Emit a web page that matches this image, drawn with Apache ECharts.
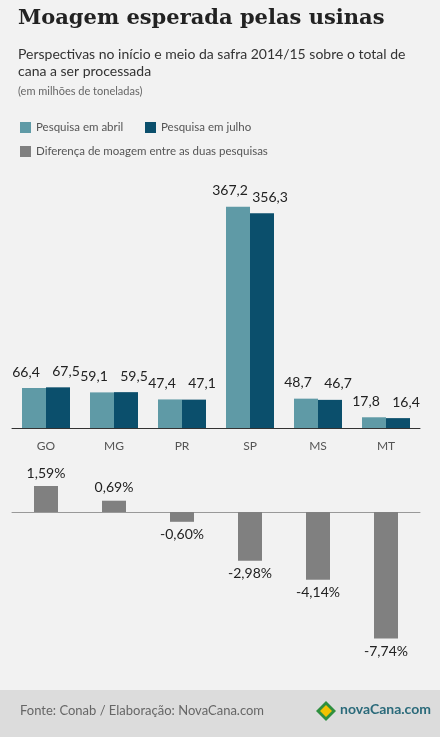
<!DOCTYPE html>
<html><head><meta charset="utf-8">
<script src="https://cdn.jsdelivr.net/npm/echarts@6/dist/echarts.min.js"></script>
<style>html,body{margin:0;padding:0;background:#f2f2f2}#c{width:440px;height:737px}</style>
</head><body><div id="c"></div>
<script>
const categories = ['GO','MG','PR','SP','MS','MT'];
const abril = [66.4,59.1,47.4,367.2,48.7,17.8];
const julho = [67.5,59.5,47.1,356.3,46.7,16.4];
const diferenca = [1.59,0.69,-0.60,-2.98,-4.14,-7.74];
const fmt = v => String(v.toFixed(1)).replace('.',',');
const fmtP = v => v.toFixed(2).replace('.',',') + '%';
const F = 'Lato, "Open Sans", sans-serif';
const chart = echarts.init(document.getElementById('c'));
chart.setOption({
  backgroundColor:'#f2f2f2',
  animation:false,
  graphic:[
    {type:'text',left:18,top:8,style:{text:'Moagem esperada pelas usinas',font:'bold 21px "DejaVu Serif", serif',fill:'#222'}},
    {type:'text',left:18,top:46,style:{text:'Perspectivas no início e meio da safra 2014/15 sobre o total de\ncana a ser processada',font:'14px '+F,fill:'#333',lineHeight:17}},
    {type:'text',left:18,top:86,style:{text:'(em milhões de toneladas)',font:'11px '+F,fill:'#666'}},
    {type:'rect',shape:{x:20,y:122,width:11,height:11},style:{fill:'#5f9aa6'}},
    {type:'text',left:36,top:121,style:{text:'Pesquisa em abril',font:'11.5px '+F,fill:'#555'}},
    {type:'rect',shape:{x:145,y:122,width:11,height:11},style:{fill:'#0b4f6c'}},
    {type:'text',left:161,top:121,style:{text:'Pesquisa em julho',font:'11.5px '+F,fill:'#555'}},
    {type:'rect',shape:{x:20,y:146,width:11,height:11},style:{fill:'#808080'}},
    {type:'text',left:36,top:145,style:{text:'Diferença de moagem entre as duas pesquisas',font:'11.5px '+F,fill:'#555'}},
    {type:'rect',shape:{x:0,y:690,width:440,height:47},style:{fill:'#dcdcdc'}},
    {type:'text',left:20,top:704,style:{text:'Fonte: Conab / Elaboração: NovaCana.com',font:'13px '+F,fill:'#666'}},
    {type:'polygon',shape:{points:[[326,701],[336,711],[326,721],[316,711]]},style:{fill:'#2f8f3f'}},
    {type:'polygon',shape:{points:[[326,705],[332,711],[326,717],[320,711]]},style:{fill:'#f2c200'}},
    {type:'text',left:340,top:702,style:{text:'novaCana.com',font:'bold 14px '+F,fill:'#2a6a7a'}}
  ],
  grid:[
    {left:12,right:20,top:190,height:238},
    {left:12,right:20,top:479.3,height:163.5}
  ],
  xAxis:[
    {gridIndex:0,type:'category',data:categories,axisTick:{show:false},axisLine:{lineStyle:{color:'#333',width:1}},axisLabel:{color:'#555',fontFamily:F,fontSize:12,margin:12}},
    {gridIndex:1,type:'category',data:categories,axisTick:{show:false},axisLabel:{show:false},axisLine:{onZero:true,lineStyle:{color:'#999'}}}
  ],
  yAxis:[
    {gridIndex:0,type:'value',min:0,max:395,show:false,splitLine:{show:false}},
    {gridIndex:1,type:'value',min:-8,max:2,show:false,splitLine:{show:false}}
  ],
  series:[
    {type:'bar',xAxisIndex:0,yAxisIndex:0,data:abril,barWidth:24,barGap:'0%',itemStyle:{color:'#5f9aa6'},
      label:{show:true,position:'top',offset:[-8,-4],formatter:p=>fmt(p.value),color:'#222',fontFamily:F,fontSize:14}},
    {type:'bar',xAxisIndex:0,yAxisIndex:0,data:julho,barWidth:24,barGap:'0%',itemStyle:{color:'#0b4f6c'},
      label:{show:true,position:'top',offset:[8,-4],formatter:p=>fmt(p.value),color:'#222',fontFamily:F,fontSize:14}},
    {type:'bar',xAxisIndex:1,yAxisIndex:1,data:diferenca.map(v=>({value:v,label:{position:v>=0?'top':'bottom'}})),barWidth:24,itemStyle:{color:'#808080'},
      label:{show:true,distance:6,formatter:p=>fmtP(p.value),color:'#222',fontFamily:F,fontSize:14}}
  ]
});
</script></body></html>
